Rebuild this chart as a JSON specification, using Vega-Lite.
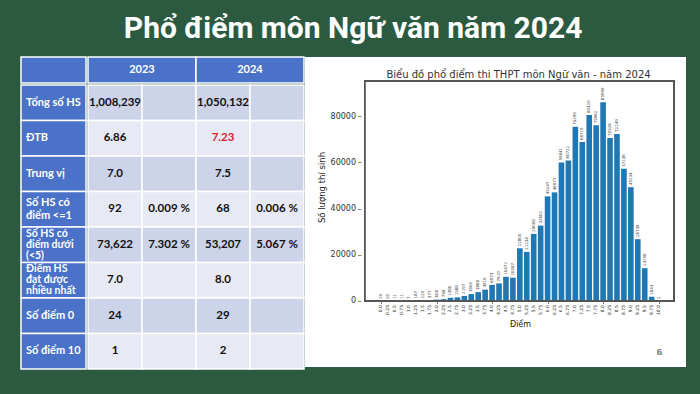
{
  "$schema": "https://vega.github.io/schema/vega-lite/v6.json",
  "background": "#2b5a41",
  "padding": {"left": 20, "right": 18, "top": 14, "bottom": 26},
  "title": {"text": "Phổ điểm môn Ngữ văn năm 2024", "font": "Roboto", "fontSize": 30, "fontWeight": "bold", "color": "white", "anchor": "middle", "offset": 12},
  "config": {"view": {"stroke": null}, "concat": {"spacing": 0}},
  "datasets": {
    "corner": [{"r": "h", "c": "h"}],
    "years": [{"r": "h", "c": "2023"}, {"r": "h", "c": "2024"}],
    "rowheads": [
      {"r": 1, "c": "h", "label": "Tổng số HS"},
      {"r": 2, "c": "h", "label": "ĐTB"},
      {"r": 3, "c": "h", "label": "Trung vị"},
      {"r": 4, "c": "h", "label": "Số HS có\nđiểm <=1"},
      {"r": 5, "c": "h", "label": "Số HS có\nđiểm dưới\n(<5)"},
      {"r": 6, "c": "h", "label": "Điểm HS\nđạt được\nnhiều nhất"},
      {"r": 7, "c": "h", "label": "Số điểm 0"},
      {"r": 8, "c": "h", "label": "Số điểm 10"}
    ],
    "cells": [
      {"r": 1, "c": "a", "v": "1,008,239"}, {"r": 1, "c": "b", "v": ""}, {"r": 1, "c": "c", "v": "1,050,132"}, {"r": 1, "c": "d", "v": ""},
      {"r": 2, "c": "a", "v": "6.86"}, {"r": 2, "c": "b", "v": ""}, {"r": 2, "c": "c", "v": "7.23"}, {"r": 2, "c": "d", "v": ""},
      {"r": 3, "c": "a", "v": "7.0"}, {"r": 3, "c": "b", "v": ""}, {"r": 3, "c": "c", "v": "7.5"}, {"r": 3, "c": "d", "v": ""},
      {"r": 4, "c": "a", "v": "92"}, {"r": 4, "c": "b", "v": "0.009 %"}, {"r": 4, "c": "c", "v": "68"}, {"r": 4, "c": "d", "v": "0.006 %"},
      {"r": 5, "c": "a", "v": "73,622"}, {"r": 5, "c": "b", "v": "7.302 %"}, {"r": 5, "c": "c", "v": "53,207"}, {"r": 5, "c": "d", "v": "5.067 %"},
      {"r": 6, "c": "a", "v": "7.0"}, {"r": 6, "c": "b", "v": ""}, {"r": 6, "c": "c", "v": "8.0"}, {"r": 6, "c": "d", "v": ""},
      {"r": 7, "c": "a", "v": "24"}, {"r": 7, "c": "b", "v": ""}, {"r": 7, "c": "c", "v": "29"}, {"r": 7, "c": "d", "v": ""},
      {"r": 8, "c": "a", "v": "1"}, {"r": 8, "c": "b", "v": ""}, {"r": 8, "c": "c", "v": "2"}, {"r": 8, "c": "d", "v": ""}
    ],
    "dist": [
      {"score": 0.0, "count": 29}, {"score": 0.25, "count": 20}, {"score": 0.5, "count": 11}, {"score": 0.75, "count": 11},
      {"score": 1.0, "count": 7}, {"score": 1.25, "count": 187}, {"score": 1.5, "count": 229}, {"score": 1.75, "count": 377},
      {"score": 2.0, "count": 608}, {"score": 2.25, "count": 798}, {"score": 2.5, "count": 1380}, {"score": 2.75, "count": 1588},
      {"score": 3.0, "count": 2197}, {"score": 3.25, "count": 3000}, {"score": 3.5, "count": 3868}, {"score": 3.75, "count": 4919},
      {"score": 4.0, "count": 6973}, {"score": 4.25, "count": 7619}, {"score": 4.5, "count": 10472}, {"score": 4.75, "count": 10087},
      {"score": 5.0, "count": 22800}, {"score": 5.25, "count": 21234}, {"score": 5.5, "count": 29008}, {"score": 5.75, "count": 32602},
      {"score": 6.0, "count": 45247}, {"score": 6.25, "count": 46977}, {"score": 6.5, "count": 59841}, {"score": 6.75, "count": 60722},
      {"score": 7.0, "count": 75299}, {"score": 7.25, "count": 68719}, {"score": 7.5, "count": 80420}, {"score": 7.75, "count": 75962},
      {"score": 8.0, "count": 85999}, {"score": 8.25, "count": 70526}, {"score": 8.5, "count": 72249}, {"score": 8.75, "count": 57136},
      {"score": 9.0, "count": 49234}, {"score": 9.25, "count": 26738}, {"score": 9.5, "count": 14198}, {"score": 9.75, "count": 1843},
      {"score": 10.0, "count": 2}
    ]
  },
  "spacing": 0,
  "hconcat": [
    {
      "spacing": 0,
      "vconcat": [
        {
          "spacing": 0,
          "hconcat": [
            {
              "width": 65, "height": 26,
              "data": {"name": "corner"},
              "mark": {"type": "rect", "fill": "#4a72c8", "stroke": "white", "strokeWidth": 1.5},
              "encoding": {
                "x": {"field": "c", "type": "nominal", "axis": null},
                "y": {"field": "r", "type": "nominal", "axis": null}
              }
            },
            {
              "width": 216, "height": 26,
              "data": {"name": "years"},
              "encoding": {
                "x": {"field": "c", "type": "nominal", "axis": null},
                "y": {"field": "r", "type": "nominal", "axis": null}
              },
              "layer": [
                {"mark": {"type": "rect", "fill": "#4a72c8", "stroke": "white", "strokeWidth": 1.5}},
                {"mark": {"type": "text", "font": "Lato", "fontSize": 11, "fontWeight": "bold", "fill": "white"},
                 "encoding": {"text": {"field": "c"}}}
              ]
            }
          ]
        },
        {
          "spacing": 0,
          "hconcat": [
            {
              "width": 65, "height": 284,
              "data": {"name": "rowheads"},
              "encoding": {
                "x": {"field": "c", "type": "nominal", "axis": null},
                "y": {"field": "r", "type": "ordinal", "axis": null}
              },
              "layer": [
                {"mark": {"type": "rect", "fill": "#4a72c8", "stroke": "white", "strokeWidth": 1.5}},
                {"transform": [{"filter": "split(datum.label, '\\n').length === 1"}],
                 "mark": {"type": "text", "font": "Lato", "fontSize": 11, "fontWeight": "bold", "fill": "white", "align": "left", "baseline": "middle", "dx": 5},
                 "encoding": {
                   "x": {"field": "c", "type": "nominal", "axis": null, "bandPosition": 0},
                   "text": {"field": "label"}
                 }},
                {"transform": [{"filter": "split(datum.label, '\\n').length === 2"}],
                 "mark": {"type": "text", "font": "Lato", "fontSize": 11, "fontWeight": "bold", "fill": "white", "align": "left", "baseline": "middle", "dx": 5, "dy": -6.5, "lineBreak": "\n", "lineHeight": 13},
                 "encoding": {
                   "x": {"field": "c", "type": "nominal", "axis": null, "bandPosition": 0},
                   "text": {"field": "label"}
                 }},
                {"transform": [{"filter": "split(datum.label, '\\n').length === 3"}],
                 "mark": {"type": "text", "font": "Lato", "fontSize": 10.5, "fontWeight": "bold", "fill": "white", "align": "left", "baseline": "middle", "dx": 5, "dy": -11, "lineBreak": "\n", "lineHeight": 11},
                 "encoding": {
                   "x": {"field": "c", "type": "nominal", "axis": null, "bandPosition": 0},
                   "text": {"field": "label"}
                 }}
              ]
            },
            {
              "width": 216, "height": 284,
              "data": {"name": "cells"},
              "encoding": {
                "x": {"field": "c", "type": "nominal", "axis": null},
                "y": {"field": "r", "type": "ordinal", "axis": null}
              },
              "layer": [
                {"mark": {"type": "rect", "stroke": "white", "strokeWidth": 1.5},
                 "encoding": {
                   "fill": {"field": "r", "type": "ordinal", "legend": null,
                            "scale": {"domain": [1, 2, 3, 4, 5, 6, 7, 8], "range": ["#cdd3e8", "#e7eaf4", "#cdd3e8", "#e7eaf4", "#cdd3e8", "#e7eaf4", "#cdd3e8", "#e7eaf4"]}}
                 }},
                {"mark": {"type": "text", "font": "Lato", "fontSize": 11.5, "fontWeight": "bold", "baseline": "middle"},
                 "encoding": {
                   "text": {"field": "v"},
                   "color": {"condition": {"test": "datum.v === '7.23'", "value": "#d8242f"}, "value": "#111111"}
                 }}
              ]
            }
          ]
        }
      ]
    },
    {
      "width": 381, "height": 310,
      "view": {"fill": "white", "stroke": null},
      "data": {"name": "dist"},
      "title": {"text": "Biểu đồ phổ điểm thi THPT môn Ngữ văn - năm 2024", "font": "DejaVu Sans", "fontSize": 10, "fontWeight": "normal", "color": "#333333", "anchor": "middle", "offset": -23, "dx": 23},
      "layer": [
        {
          "mark": {"type": "bar", "color": "#1f77b4", "width": 5.6},
          "encoding": {
            "x": {"field": "score", "type": "quantitative",
                  "scale": {"domain": [-2.561, 10.807], "nice": false, "zero": false},
                  "axis": {"orient": "bottom", "offset": -66, "values": [0,0.25,0.5,0.75,1,1.25,1.5,1.75,2,2.25,2.5,2.75,3,3.25,3.5,3.75,4,4.25,4.5,4.75,5,5.25,5.5,5.75,6,6.25,6.5,6.75,7,7.25,7.5,7.75,8,8.25,8.5,8.75,9,9.25,9.5,9.75,10],
                           "labels": false,
                           "domain": false, "grid": false, "tickSize": 2.5, "tickColor": "#333333", "tickWidth": 0.6,
                           "title": "Điểm", "titleFont": "DejaVu Sans", "titleFontSize": 8, "titleFontWeight": "normal", "titleColor": "#222222", "titleX": 215, "titlePadding": 17}},
            "y": {"field": "count", "type": "quantitative",
                  "scale": {"domain": [-28541, 105514], "nice": false, "zero": false},
                  "axis": {"orient": "left", "offset": -56, "values": [0, 20000, 40000, 60000, 80000], "format": "d",
                           "labelFont": "DejaVu Sans", "labelFontSize": 8, "labelColor": "#333333", "labelPadding": 2,
                           "domain": false, "grid": false, "tickSize": 3.5, "tickColor": "#333333", "tickWidth": 0.6,
                           "title": "Số lượng thí sinh", "titleFont": "DejaVu Sans", "titleFontSize": 8.5, "titleFontWeight": "normal", "titleColor": "#222222", "titleY": 130, "titlePadding": 4}}
          }
        },
        {
          "mark": {"type": "text", "angle": 270, "align": "left", "baseline": "middle", "dx": 2, "font": "DejaVu Sans", "fontSize": 4, "fill": "#444444"},
          "encoding": {
            "x": {"field": "score", "type": "quantitative"},
            "y": {"field": "count", "type": "quantitative"},
            "text": {"field": "count", "type": "nominal"}
          }
        },
        {
          "transform": [{"filter": "datum.score % 1 === 0"}],
          "mark": {"type": "text", "angle": 270, "align": "right", "baseline": "middle", "dx": -4, "font": "DejaVu Sans", "fontSize": 4.5, "fill": "#333333"},
          "encoding": {
            "x": {"field": "score", "type": "quantitative"},
            "y": {"datum": 0, "type": "quantitative"},
            "text": {"field": "score", "type": "quantitative", "format": ".1f"}
          }
        },
        {
          "transform": [{"filter": "datum.score % 1 !== 0"}],
          "mark": {"type": "text", "angle": 270, "align": "right", "baseline": "middle", "dx": -4, "font": "DejaVu Sans", "fontSize": 4.5, "fill": "#333333"},
          "encoding": {
            "x": {"field": "score", "type": "quantitative"},
            "y": {"datum": 0, "type": "quantitative"},
            "text": {"field": "score", "type": "quantitative", "format": ".2~f"}
          }
        },
        {
          "mark": {"type": "rect", "fill": null, "stroke": "#555555", "strokeWidth": 0.8},
          "encoding": {
            "x": {"datum": -0.596, "type": "quantitative"},
            "x2": {"datum": 10.561},
            "y": {"datum": 0, "type": "quantitative"},
            "y2": {"datum": 95135}
          }
        },
        {
          "mark": {"type": "text", "font": "Liberation Serif", "fontSize": 9, "fill": "#999999"},
          "encoding": {
            "x": {"datum": 10.03, "type": "quantitative"},
            "y": {"datum": -22000, "type": "quantitative"},
            "text": {"value": "6"}
          }
        }
      ]
    }
  ]
}
